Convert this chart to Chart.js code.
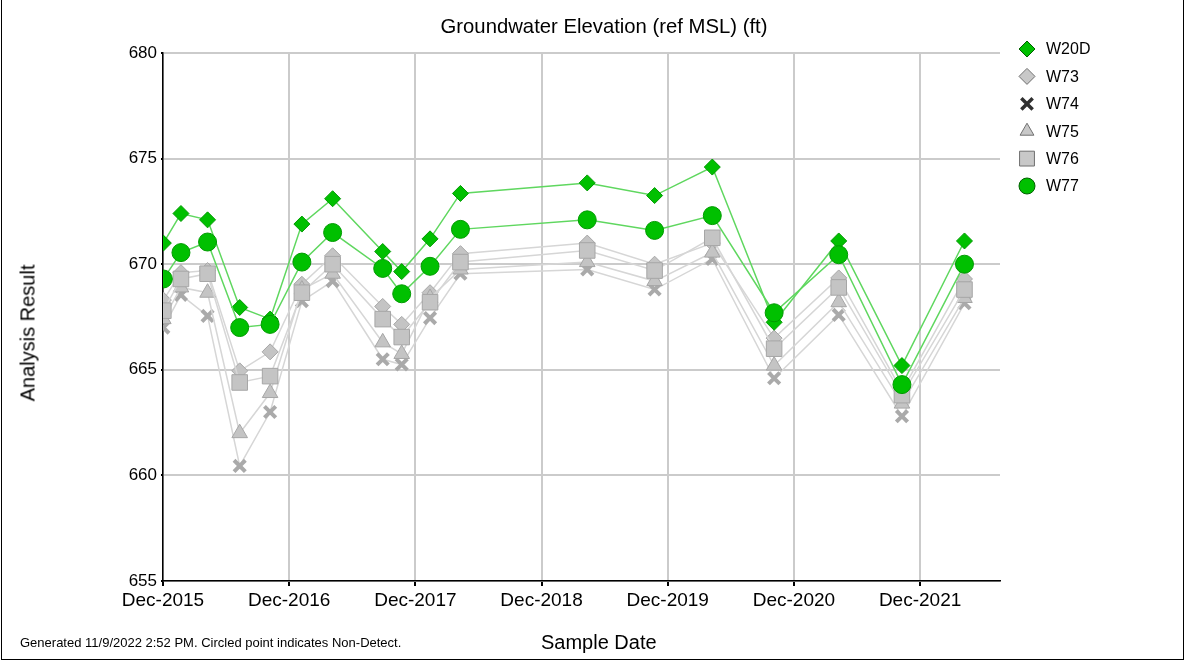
<!DOCTYPE html>
<html>
<head>
<meta charset="utf-8">
<script src="https://cdn.jsdelivr.net/npm/chart.js@4.4.0/dist/chart.umd.min.js"></script>
<style>
    html, body { margin: 0; padding: 0; background: #fff; }
    #wrap { position: relative; width: 1193px; height: 662px; font-family: "Liberation Sans", Arial, sans-serif; color: #000; }
    #frame { position: absolute; left: 1px; top: -1px; width: 1183px; height: 661px; border: 1px solid #000; box-sizing: border-box; pointer-events: none; }
    canvas { position: absolute; left: 0; top: 0; }
    #title { position: absolute; left: 0; width: 1208px; top: 15px; text-align: center; font-size: 20.3px; }
    #ytitle { position: absolute; left: 28px; top: 333px; font-size: 20px; white-space: nowrap; transform: translate(-50%, -50%) rotate(-90deg); }
    #note { position: absolute; left: 20px; top: 635px; font-size: 13px; }
    #xtitle { position: absolute; left: 541px; top: 631px; font-size: 20px; white-space: nowrap; }
</style>
</head>
<body>
<div id="wrap">
    <canvas id="chart" width="1193" height="662"></canvas>
    <div id="title">Groundwater Elevation (ref MSL) (ft)</div>
    <div id="ytitle">Analysis Result</div>
    <div id="note">Generated 11/9/2022 2:52 PM. Circled point indicates Non-Detect.</div>
    <div id="xtitle">Sample Date</div>
    <div id="frame"></div>
</div>
<script>
// 샘플 날짜
const sampleDates = [
    '2015-12-02', '2016-01-22', '2016-04-08', '2016-07-10', '2016-10-06', '2017-01-06',
    '2017-04-05', '2017-08-28', '2017-10-22', '2018-01-12', '2018-04-10', '2019-04-12',
    '2019-10-24', '2020-04-08', '2020-10-04', '2021-04-09', '2021-10-09', '2022-04-08'
];

const wellNames = ['W20D', 'W73', 'W74', 'W75', 'W76', 'W77'];

const w20d = [671.0, 672.4, 672.1, 667.95, 667.4, 671.9, 673.1, 670.6, 669.65, 671.2, 673.35, 673.85, 673.25, 674.6, 667.25, 671.1, 665.2, 671.1];
const w73  = [668.3, 669.6, 669.7, 664.95, 665.85, 669.05, 670.4, 668.0, 667.15, 668.65, 670.5, 671.0, 670.0, 671.0, 666.5, 669.35, 664.0, 669.3];
const w74  = [667.0, 668.55, 667.55, 660.45, 663.0, 668.25, 669.2, 665.5, 665.25, 667.45, 669.55, 669.75, 668.8, 670.25, 664.6, 667.6, 662.8, 668.15];
const w75  = [667.4, 668.9, 668.65, 662.0, 663.9, 668.8, 669.55, 666.3, 665.75, 668.4, 669.75, 670.1, 669.2, 670.55, 665.2, 668.2, 663.4, 668.4];
const w76  = [667.8, 669.3, 669.55, 664.4, 664.7, 668.65, 670.0, 667.4, 666.55, 668.2, 670.1, 670.65, 669.7, 671.25, 666.0, 668.9, 663.8, 668.8];
const w77  = [669.3, 670.55, 671.05, 667.0, 667.15, 670.1, 671.5, 669.8, 668.6, 669.9, 671.65, 672.1, 671.6, 672.3, 667.7, 670.45, 664.3, 670.0];

const xTickLabels = ['Dec-2015', 'Dec-2016', 'Dec-2017', 'Dec-2018', 'Dec-2019', 'Dec-2020', 'Dec-2021'];

const FONT = '"Liberation Sans", Arial, sans-serif';
const START = Date.UTC(2015, 11, 1);
const MONTH = 86400000 * 30.4375;

function monthsFromStart(d) {
    const [y, m, day] = d.split('-').map(Number);
    return (Date.UTC(y, m - 1, day) - START) / MONTH;
}

function toPoints(values) {
    return values.map((v, i) => ({ x: monthsFromStart(sampleDates[i]), y: v }));
}

const GREEN = '#00c000';
const GREEN_EDGE = '#009a00';
const GREEN_LINE = '#5fd75f';
const GREY = '#c4c4c4';
const GREY_EDGE = '#a6a6a6';
const GREY_LINE = '#d6d6d6';

// 범례/점 스타일
const styles = [
    { style: 'rectRot', r: 8, fill: GREEN, edge: GREEN_EDGE, line: GREEN_LINE, bw: 1, order: 1, legFill: GREEN, legEdge: '#006000' },
    { style: 'rectRot', r: 8, fill: GREY, edge: GREY_EDGE, line: GREY_LINE, bw: 1, order: 5, legFill: '#c8c8c8', legEdge: '#707070' },
    { style: 'crossRot', r: 8, fill: '#aaaaaa', edge: '#aaaaaa', line: GREY_LINE, bw: 4, order: 4, legFill: '#303030', legEdge: '#303030' },
    { style: 'triangle', r: 9, fill: GREY, edge: GREY_EDGE, line: GREY_LINE, bw: 1, order: 3, legFill: '#c8c8c8', legEdge: '#707070' },
    { style: 'rect', r: 11, fill: GREY, edge: GREY_EDGE, line: GREY_LINE, bw: 1, order: 2, legFill: '#c8c8c8', legEdge: '#707070' },
    { style: 'circle', r: 9, fill: GREEN, edge: GREEN_EDGE, line: GREEN_LINE, bw: 1, order: 0, legFill: GREEN, legEdge: '#006000' }
];

const seriesValues = [w20d, w73, w74, w75, w76, w77];

const datasets = seriesValues.map((vals, i) => {
    const s = styles[i];
    return {
        label: wellNames[i],
        data: toPoints(vals),
        order: s.order,
        borderColor: s.line,
        borderWidth: 1.5,
        pointStyle: s.style,
        pointRadius: s.r,
        pointBackgroundColor: s.fill,
        pointBorderColor: s.edge,
        pointBorderWidth: s.bw,
        tension: 0,
        clip: 0
    };
});

const sideLegend = {
    id: 'sideLegend',
    afterDraw(chart) {
        const ctx = chart.ctx;
        ctx.save();
        wellNames.forEach((name, i) => {
            const y = 49 + i * 27.4;
            const s = styles[i];
            ctx.fillStyle = s.legFill;
            ctx.strokeStyle = s.legEdge;
            ctx.lineWidth = s.style === 'crossRot' ? 3.5 : 1;
            Chart.helpers.drawPoint(ctx, {
                pointStyle: s.style,
                radius: s.style === 'rect' ? 10.5 : 8,
                rotation: 0,
                borderWidth: ctx.lineWidth
            }, 1027, y);
            ctx.fillStyle = '#000';
            ctx.font = '16px ' + FONT;
            ctx.textBaseline = 'middle';
            ctx.textAlign = 'left';
            ctx.fillText(name, 1046, y + 1);
        });
        ctx.restore();
    }
};

new Chart(document.getElementById('chart'), {
    type: 'line',
    data: { datasets },
    plugins: [sideLegend],
    options: {
        responsive: false,
        animation: false,
        layout: { padding: { left: 0, right: 193, top: 53, bottom: 0 } },
        plugins: {
            legend: { display: false },
            tooltip: { enabled: false },
            title: { display: false }
        },
        scales: {
            x: {
                type: 'linear',
                min: 0,
                max: 79.6,
                afterFit(scale) { scale.height = 81; },
                ticks: {
                    stepSize: 12,
                    includeBounds: false,
                    autoSkip: false,
                    maxRotation: 0,
                    padding: 3,
                    color: '#000',
                    font: { family: FONT, size: 19 },
                    callback: (v) => xTickLabels[Math.round(v / 12)]
                },
                grid: { color: '#cbcbcb', lineWidth: 2, tickLength: 5, tickColor: '#000' },
                border: { display: true, color: '#000', width: 1.5 }
            },
            y: {
                min: 655,
                max: 680,
                afterFit(scale) { scale.width = 163; },
                ticks: {
                    stepSize: 5,
                    padding: 4,
                    color: '#000',
                    font: { family: FONT, size: 17 }
                },
                grid: { color: '#cbcbcb', lineWidth: 2, tickLength: 2, tickColor: '#000' },
                border: { display: true, color: '#000', width: 1.5 }
            }
        }
    }
});
</script>
</body>
</html>
